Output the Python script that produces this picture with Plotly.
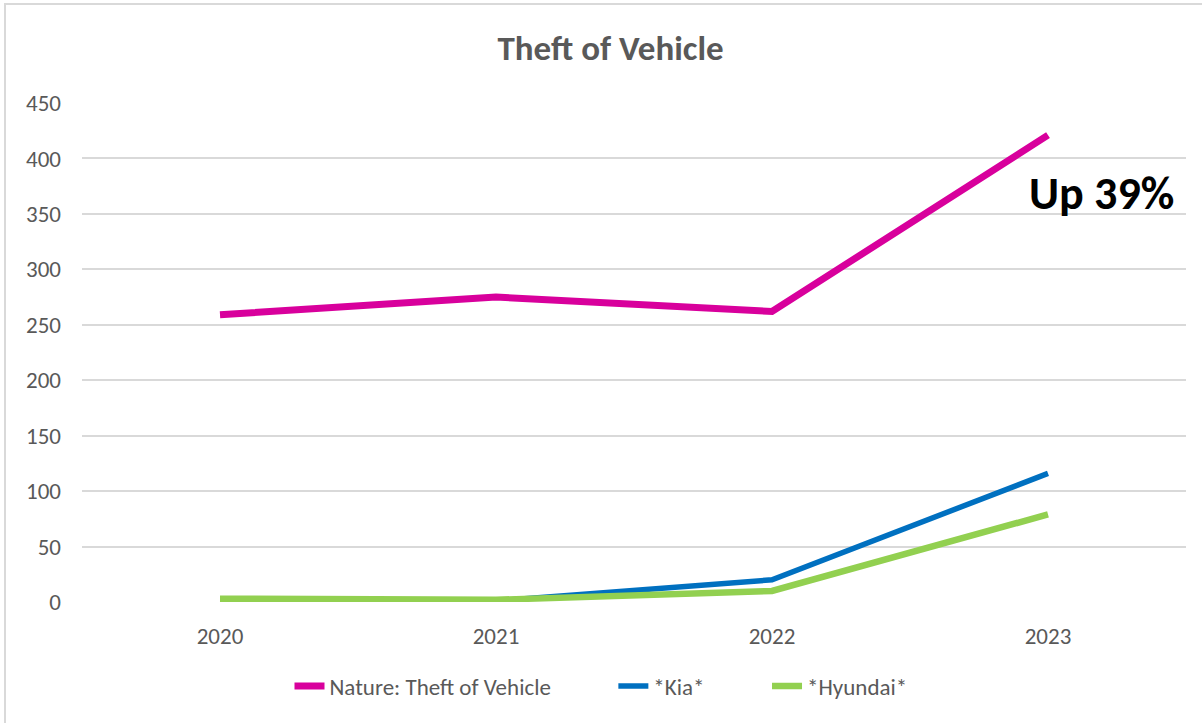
import plotly.graph_objects as go

years = ["2020", "2021", "2022", "2023"]
nature = [259, 275, 262, 421]
kia = [1, 1, 20, 116]
hyundai = [3, 2, 10, 79]

FONT = "Carlito, Lato, 'Open Sans', Arial"
PAD = "\u2003\u2003\u2002"

fig = go.Figure()
fig.add_trace(go.Scatter(x=years, y=nature, mode="lines", name="Nature: Theft of Vehicle" + PAD,
                         line=dict(color="#D8009C", width=7)))
fig.add_trace(go.Scatter(x=years, y=kia, mode="lines", name="*Kia*" + PAD,
                         line=dict(color="#0070C0", width=5.5)))
fig.add_trace(go.Scatter(x=years, y=hyundai, mode="lines", name="*Hyundai*",
                         line=dict(color="#92D050", width=6.5)))

fig.update_layout(
    width=1202, height=723,
    paper_bgcolor="white", plot_bgcolor="white",
    margin=dict(l=82, r=16, t=103, b=121),
    font=dict(family=FONT, color="#595959", size=24),
    title=dict(text="<b>Theft of Vehicle</b>", x=0.508, xanchor="center", y=1 - 48 / 723, yanchor="middle",
               font=dict(size=35, color="#595959", family=FONT)),
    xaxis=dict(type="category", range=[-0.5, 3.5], showgrid=False, zeroline=False,
               showline=False, ticks="", tickfont=dict(size=23, color="#595959"), ticklabelstandoff=18),
    yaxis=dict(range=[0, 450], dtick=50, showgrid=True, gridcolor="#D9D9D9", gridwidth=2,
               zeroline=False, showline=False, ticks="", tickfont=dict(size=23, color="#595959"),
               ticklabelstandoff=20),
    legend=dict(orientation="h", x=(601 - 82) / 1104, xanchor="center", y=(602 - 686) / 499, yanchor="middle",
                font=dict(size=23, color="#595959"), tracegroupgap=0),
    showlegend=True,
)

fig.add_annotation(text="<b>Up 39%</b>", xref="paper", yref="paper", x=(1176 - 82) / 1104, xanchor="right",
                   y=(602 - 193) / 499, yanchor="middle", showarrow=False,
                   font=dict(size=46, color="#000000", family=FONT))

fig.add_shape(type="rect", xref="paper", yref="paper",
              x0=(5 - 82) / 1104, x1=(1230 - 82) / 1104,
              y0=(602 - 760) / 499, y1=(602 - 4) / 499,
              line=dict(color="#D9D9D9", width=2), fillcolor="rgba(0,0,0,0)", layer="below")

fig.write_html("out.html", config={"displayModeBar": False},
               post_script="document.body.style.margin='0';document.body.style.overflow='hidden';")
